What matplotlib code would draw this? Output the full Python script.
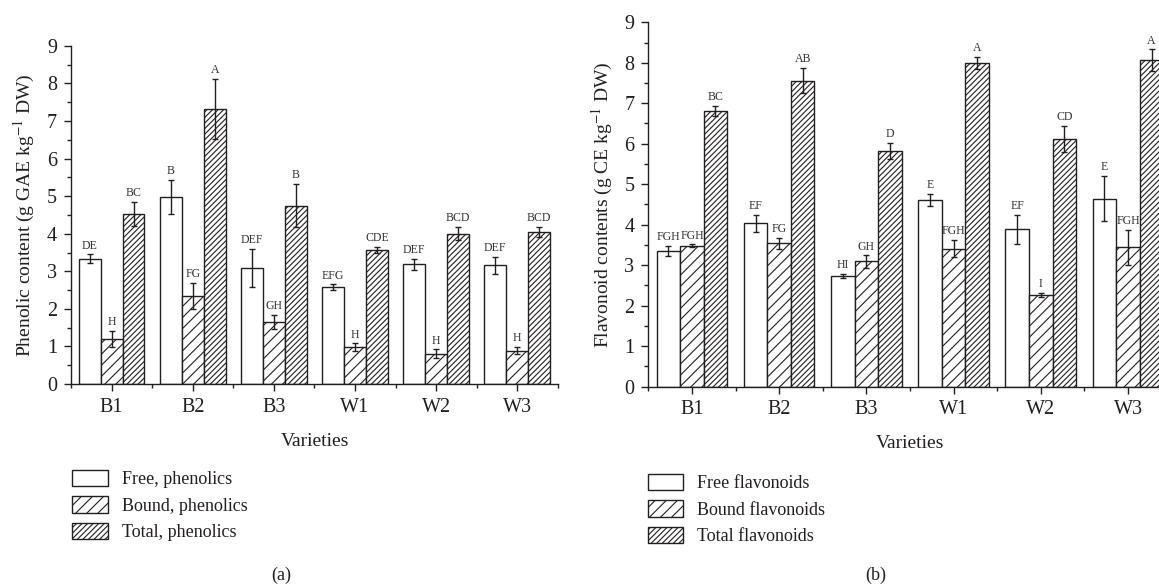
"""Phenolic and flavonoid contents of six varieties, free / bound / total."""

import matplotlib.pyplot as plt
import numpy as np
from matplotlib.patches import Patch

plt.rcParams["font.family"] = ["Liberation Serif", "DejaVu Serif"]
plt.rcParams["mathtext.fontset"] = "stix"
plt.rcParams["hatch.linewidth"] = 0.8
plt.rcParams["hatch.color"] = "#231f20"

varieties = ["B1", "B2", "B3", "W1", "W2", "W3"]

# (a) phenolics, g GAE/kg DW
phen_free = [3.34, 4.98, 3.09, 2.58, 3.19, 3.16]
phen_free_err = [0.11, 0.46, 0.50, 0.07, 0.15, 0.23]
phen_free_lab = ["DE", "B", "DEF", "EFG", "DEF", "DEF"]
phen_bound = [1.20, 2.34, 1.66, 0.98, 0.81, 0.89]
phen_bound_err = [0.22, 0.35, 0.19, 0.10, 0.11, 0.09]
phen_bound_lab = ["H", "FG", "GH", "H", "H", "H"]
phen_total = [4.53, 7.32, 4.75, 3.56, 4.00, 4.04]
phen_total_err = [0.32, 0.80, 0.58, 0.08, 0.18, 0.14]
phen_total_lab = ["BC", "A", "B", "CDE", "BCD", "BCD"]

# (b) flavonoids, g CE/kg DW
flav_free = [3.35, 4.04, 2.73, 4.62, 3.89, 4.64]
flav_free_err = [0.13, 0.21, 0.06, 0.15, 0.36, 0.56]
flav_free_lab = ["FGH", "EF", "HI", "E", "EF", "E"]
flav_bound = [3.48, 3.54, 3.09, 3.41, 2.26, 3.44]
flav_bound_err = [0.03, 0.14, 0.15, 0.22, 0.05, 0.43]
flav_bound_lab = ["FGH", "FG", "GH", "FGH", "I", "FGH"]
flav_total = [6.81, 7.56, 5.83, 8.00, 6.12, 8.06]
flav_total_err = [0.12, 0.31, 0.20, 0.15, 0.32, 0.27]
flav_total_lab = ["BC", "AB", "D", "A", "CD", "A"]

INK = "#231f20"
WIDTH = 0.27
HATCHES = ["", "///", "//////"]


def draw_panel(ax, series, ylabel):
    x = np.arange(len(varieties))
    for k, (vals, errs, labs) in enumerate(series):
        pos = x + (k - 1) * WIDTH
        ax.bar(pos, vals, WIDTH, color="white", edgecolor=INK, linewidth=1.0,
               hatch=HATCHES[k], zorder=2)
        ax.errorbar(pos, vals, yerr=errs, fmt="none", ecolor=INK, elinewidth=1.0,
                    capsize=2.5, capthick=1.0, zorder=3)
        for p, v, e, t in zip(pos, vals, errs, labs):
            ax.annotate(t, (p, v + e), xytext=(0, 2), textcoords="offset points",
                        ha="center", va="bottom", fontsize=8.5, color="#333333")

    ax.set_xlim(-0.5, 5.5)
    ax.set_ylim(0, 9)
    ax.set_xticks(x)
    ax.set_xticklabels(varieties)
    ax.set_xticks(np.arange(-0.5, 6, 1.0), minor=True)
    ax.set_yticks(range(10))
    ax.set_yticks(np.arange(0.5, 9, 1.0), minor=True)
    ax.tick_params(axis="both", which="major", direction="out", length=5,
                   width=1.0, colors=INK, labelsize=14.5)
    ax.tick_params(axis="x", which="major", pad=5)
    ax.tick_params(axis="y", which="major", pad=5)
    ax.tick_params(axis="both", which="minor", direction="out", length=3, width=1.0,
                   colors=INK)
    for side in ("top", "right"):
        ax.spines[side].set_visible(False)
    for side in ("left", "bottom"):
        ax.spines[side].set_color(INK)
        ax.spines[side].set_linewidth(1.0)
    ax.set_ylabel(ylabel, fontsize=14, color=INK, labelpad=7)


fig = plt.figure(figsize=(11.59, 5.86), dpi=100)
ax_a = fig.add_axes([0.0613, 0.3447, 0.420, 0.577])
ax_b = fig.add_axes([0.5594, 0.3404, 0.4515, 0.6215])

draw_panel(ax_a, [(phen_free, phen_free_err, phen_free_lab),
                  (phen_bound, phen_bound_err, phen_bound_lab),
                  (phen_total, phen_total_err, phen_total_lab)],
           "Phenolic content (g GAE kg$^{-1}$ DW)")
draw_panel(ax_b, [(flav_free, flav_free_err, flav_free_lab),
                  (flav_bound, flav_bound_err, flav_bound_lab),
                  (flav_total, flav_total_err, flav_total_lab)],
           "Flavonoid contents (g CE kg$^{-1}$ DW)")

fig.text(315 / 1159, 1 - 441 / 586, "Varieties", ha="center", va="center",
         fontsize=14, color=INK)
fig.text(910 / 1159, 1 - 444 / 586, "Varieties", ha="center", va="center",
         fontsize=14, color=INK)


def legend_handles():
    return [Patch(facecolor="white", edgecolor=INK, linewidth=1.0, hatch=h) for h in HATCHES]


fig.legend(legend_handles(), ["Free, phenolics", "Bound, phenolics", "Total, phenolics"],
           loc="upper left", bbox_to_anchor=(72 / 1159, 1 - 470 / 586), frameon=False,
           borderpad=0, borderaxespad=0, fontsize=13, handlelength=2.0,
           handleheight=1.0, labelspacing=0.45, handletextpad=0.75, labelcolor=INK)
fig.legend(legend_handles(), ["Free flavonoids", "Bound flavonoids", "Total flavonoids"],
           loc="upper left", bbox_to_anchor=(648 / 1159, 1 - 474 / 586), frameon=False,
           borderpad=0, borderaxespad=0, fontsize=13, handlelength=1.95,
           handleheight=1.0, labelspacing=0.45, handletextpad=0.75, labelcolor=INK)

fig.text(281 / 1159, 1 - 575 / 586, "(a)", ha="center", va="center", fontsize=13, color=INK)
fig.text(876 / 1159, 1 - 575 / 586, "(b)", ha="center", va="center", fontsize=13, color=INK)

fig.savefig("out.png", dpi=100)
